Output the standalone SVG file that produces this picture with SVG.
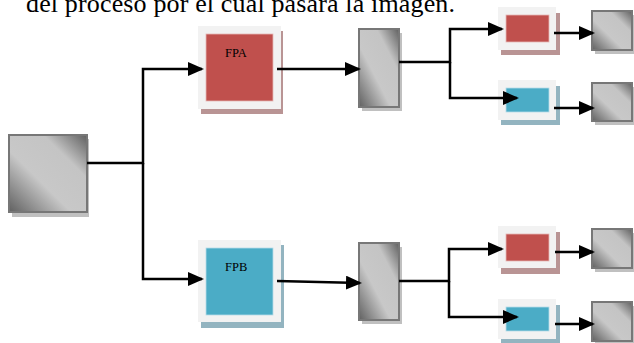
<svg xmlns="http://www.w3.org/2000/svg" width="634" height="343" viewBox="0 0 634 343">
<style>
.gray{fill:url(#g);stroke:#777;stroke-width:2}
.gsh{fill:#c0c0c0}
.light{fill:#f2f2f2}
.red{fill:#c0504d;stroke:#e6b8b7;stroke-width:0.8}
.blue{fill:#4bacc6;stroke:#b7dde8;stroke-width:0.8}
.rsh{fill:#b99494}
.bsh{fill:#93b4c0}
.lbl{font-family:"Liberation Serif","Times New Roman",serif;font-size:12.5px;fill:#000}
.con{fill:none;stroke:#000;stroke-width:2.5;marker-end:url(#ah)}
</style>
<defs>
<linearGradient id="g" x1="1" y1="0" x2="0" y2="1">
<stop offset="0" stop-color="#606060"/>
<stop offset="0.28" stop-color="#c4c4c4"/>
<stop offset="0.6" stop-color="#c8c8c8"/>
<stop offset="1" stop-color="#606060"/>
</linearGradient>
<marker id="ah" markerUnits="userSpaceOnUse" viewBox="0 0 16 14" markerWidth="16" markerHeight="14" refX="14" refY="7" orient="auto">
<path d="M0,0 L16,7 L0,14 z" fill="#000"/>
</marker>
</defs>
<text x="26" y="12" font-family="Liberation Serif,Times New Roman,serif" font-size="26" fill="#000" textLength="429" lengthAdjust="spacing">del proceso por el cual pasará la imagen.</text>

<g id="input">
<rect class="gsh" x="12" y="139" width="77" height="78"/>
<rect class="gray" x="9" y="135" width="78" height="77"/>
</g>
<g id="fpa">
<rect class="rsh" x="201" y="31" width="82" height="83"/>
<rect class="light" x="198" y="26" width="83" height="83"/>
<rect class="red" x="206" y="34" width="67" height="67"/>
<text class="lbl" x="225" y="57">FPA</text>
</g>
<g id="fpb">
<rect class="bsh" x="201" y="245" width="83" height="83"/>
<rect class="light" x="198" y="240" width="83" height="82"/>
<rect class="blue" x="206" y="248" width="67" height="67"/>
<text class="lbl" x="225" y="271">FPB</text>
</g>
<g id="splitA">
<rect class="gsh" x="362" y="33" width="40" height="78"/>
<rect class="gray" x="359" y="29" width="40" height="78"/>
</g>
<g id="splitB">
<rect class="gsh" x="362" y="247" width="40" height="77"/>
<rect class="gray" x="359" y="243" width="40" height="77"/>
</g>
<g id="a1">
<rect class="rsh" x="501" y="13" width="59" height="42"/>
<rect class="light" x="498" y="7" width="58" height="43"/>
<rect class="red" x="506" y="15" width="43" height="27"/>
</g>
<g id="a2">
<rect class="bsh" x="501" y="86" width="59" height="39"/>
<rect class="light" x="498" y="80" width="58" height="40"/>
<rect class="blue" x="506" y="88" width="43" height="24"/>
</g>
<g id="b1">
<rect class="rsh" x="501" y="232" width="59" height="42"/>
<rect class="light" x="498" y="226" width="58" height="42"/>
<rect class="red" x="506" y="234" width="43" height="27"/>
</g>
<g id="b2">
<rect class="bsh" x="501" y="305" width="59" height="38"/>
<rect class="light" x="498" y="299" width="58" height="40"/>
<rect class="blue" x="506" y="307" width="43" height="24"/>
</g>
<g id="outA1">
<rect class="gsh" x="595" y="15" width="40" height="39"/>
<rect class="gray" x="592" y="11" width="40" height="39"/>
</g>
<g id="outA2">
<rect class="gsh" x="595" y="87" width="40" height="38"/>
<rect class="gray" x="592" y="83" width="40" height="38"/>
</g>
<g id="outB1">
<rect class="gsh" x="595" y="233" width="40" height="39"/>
<rect class="gray" x="592" y="229" width="40" height="39"/>
</g>
<g id="outB2">
<rect class="gsh" x="595" y="306" width="40" height="39"/>
<rect class="gray" x="592" y="302" width="40" height="39"/>
</g>

<g id="connectors">
<path class="con" d="M87,163 H143 V69 H202"/>
<path class="con" d="M143,163 V279 H202"/>
<path class="con" d="M277,69 H359"/>
<path class="con" d="M277,281 L360,283"/>
<path class="con" d="M399,62 H450 V29 H502"/>
<path class="con" d="M450,62 V98 H517"/>
<path class="con" d="M554,33 H593"/>
<path class="con" d="M554,108 H593"/>
<path class="con" d="M399,281 H449 V249 H502"/>
<path class="con" d="M449,281 V317 H517"/>
<path class="con" d="M555,252 H593"/>
<path class="con" d="M555,324 H593"/>
</g>
</svg>
